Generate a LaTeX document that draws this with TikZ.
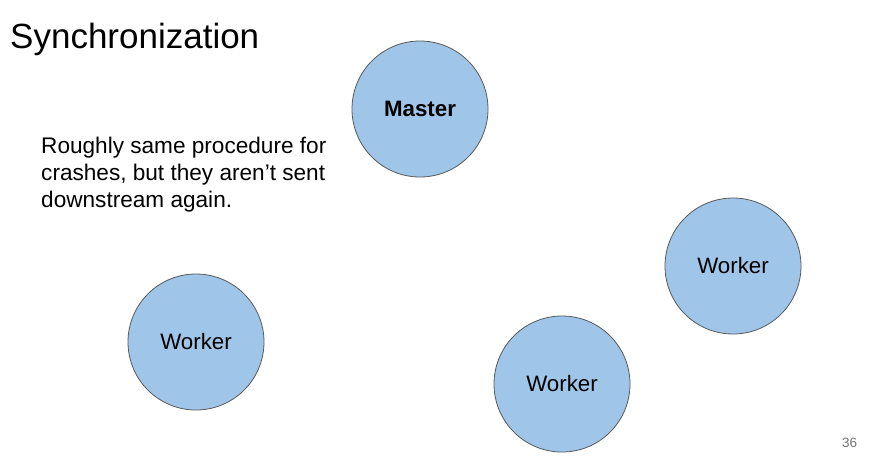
\documentclass[tikz,border=0pt]{standalone}
\usepackage{fontspec}
\setmainfont{Liberation Sans}
\definecolor{nodefill}{HTML}{9FC5E8}
\definecolor{nodeline}{HTML}{595959}
\definecolor{pagenum}{HTML}{757575}
\begin{document}
\begin{tikzpicture}[x=1pt,y=-1pt,
  proc/.style={circle,draw=nodeline,line width=0.8pt,fill=nodefill,minimum size=136pt,inner sep=0pt,font=\fontsize{22.3}{26}\selectfont}]
\useasboundingbox[fill=white] (0,0) rectangle (872,464);
\node[anchor=base west,inner sep=0pt,font=\fontsize{35}{40}\selectfont] (title) at (10,48) {Synchronization};
\node[anchor=north west,inner sep=0pt,align=left,font=\fontsize{22.6}{27}\selectfont] (desc) at (41,136.5) {Roughly same procedure for\\crashes, but they aren’t sent\\downstream again.};
\node[proc,font=\fontsize{22.3}{26}\selectfont\bfseries] (master) at (420,109) {Master};
\node[proc] (w1) at (196,342) {Worker};
\node[proc] (w2) at (733,266) {Worker};
\node[proc] (w3) at (562,384) {Worker};
\node[anchor=center,inner sep=0pt,text=pagenum,font=\fontsize{13.5}{16}\selectfont] (num) at (849.5,443) {36};
\end{tikzpicture}
\end{document}
